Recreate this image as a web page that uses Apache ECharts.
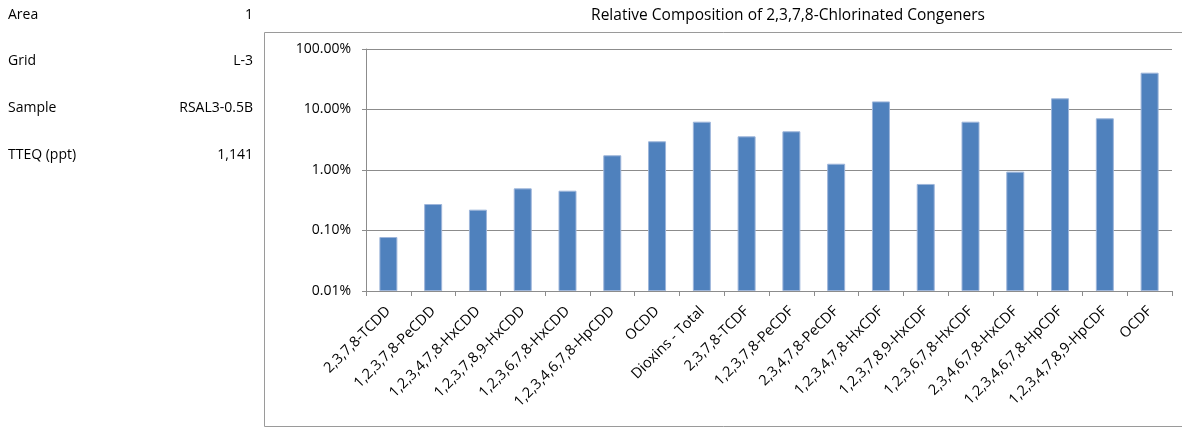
<!DOCTYPE html>
<html>
<head>
<meta charset="utf-8">
<script src="https://cdn.jsdelivr.net/npm/echarts@6/dist/echarts.min.js"></script>
<style>
  html, body { margin: 0; padding: 0; background: #fff; }
  #chart { width: 1182px; height: 429px; }
</style>
</head>
<body>
<div id="chart"></div>
<script>
// Congener names along the x axis
const categories = [
  '2,3,7,8-TCDD', '1,2,3,7,8-PeCDD', '1,2,3,4,7,8-HxCDD', '1,2,3,7,8,9-HxCDD',
  '1,2,3,6,7,8-HxCDD', '1,2,3,4,6,7,8-HpCDD', 'OCDD', 'Dioxins - Total',
  '2,3,7,8-TCDF', '1,2,3,7,8-PeCDF', '2,3,4,7,8-PeCDF', '1,2,3,4,7,8-HxCDF',
  '1,2,3,7,8,9-HxCDF', '1,2,3,6,7,8-HxCDF', '2,3,4,6,7,8-HxCDF',
  '1,2,3,4,6,7,8-HpCDF', '1,2,3,4,7,8,9-HpCDF', 'OCDF'
];

// Relative composition, in percent
const composition = [
  0.078, 0.274, 0.221, 0.497, 0.455, 1.75, 2.98, 6.29,
  3.6, 4.36, 1.27, 13.6, 0.588, 6.29, 0.94, 15.3, 7.15, 40.6
];

// Sample information block on the left
const infoLabels = ['Area', 'Grid', 'Sample', 'TTEQ (ppt)'];
const infoValues = ['1', 'L-3', 'RSAL3-0.5B', '1,141'];

// Bottom of the log axis; bars rise from here
const AXIS_MIN = 0.01;
const AXIS_MAX = 100;

const FONT = '"Open Sans", sans-serif';
const GRID_GRAY = '#8c8c8c';

const infoRowsY = [15, 61, 108, 155];
const infoGraphics = [];
infoLabels.forEach((t, i) => {
  infoGraphics.push({
    type: 'text', x: 8, y: infoRowsY[i],
    style: { text: t, font: '14px ' + FONT, fill: '#000', verticalAlign: 'middle' }
  });
});
infoValues.forEach((t, i) => {
  infoGraphics.push({
    type: 'text', x: 253, y: infoRowsY[i],
    style: { text: t, font: '14px ' + FONT, fill: '#000', align: 'right', verticalAlign: 'middle' }
  });
});

// A log axis anchors bars at 1, so an invisible base segment up to AXIS_MIN
// is stacked underneath and the visible bar carries the remainder.
const baseSeg = composition.map(() => AXIS_MIN);
const barSeg = composition.map(v => v - AXIS_MIN);

const chart = echarts.init(document.getElementById('chart'), null, { renderer: 'canvas' });
chart.setOption({
  animation: false,
  backgroundColor: '#fff',
  graphic: [
    {
      type: 'rect', x: 264.5, y: 32.5,
      shape: { width: 940, height: 394 },
      style: { fill: 'none', stroke: '#9a9a9a', lineWidth: 1 },
      z: -1
    },
    {
      type: 'text', x: 788, y: 16,
      style: {
        text: 'Relative Composition of 2,3,7,8-Chlorinated Congeners',
        font: '15.5px ' + FONT, fill: '#000', align: 'center', verticalAlign: 'middle'
      }
    },
    ...infoGraphics
  ],
  grid: { left: 366, right: 10, top: 49, bottom: 138, containLabel: false },
  xAxis: {
    type: 'category',
    data: categories,
    axisLine: { lineStyle: { color: GRID_GRAY, width: 1 } },
    axisTick: { show: true, length: 5, alignWithLabel: false, lineStyle: { color: GRID_GRAY } },
    axisLabel: {
      interval: 0, rotate: 45, margin: 18,
      fontFamily: FONT, fontSize: 14.5, color: '#000'
    },
    splitLine: { show: false }
  },
  yAxis: {
    type: 'log',
    logBase: 10,
    min: AXIS_MIN,
    max: AXIS_MAX,
    axisLine: { show: true, lineStyle: { color: GRID_GRAY, width: 1 } },
    axisTick: { show: true, length: 4, inside: false, lineStyle: { color: GRID_GRAY } },
    axisLabel: {
      margin: 15,
      fontFamily: FONT, fontSize: 14, color: '#000',
      formatter: v => Number(v).toFixed(2) + '%'
    },
    splitLine: { show: true, lineStyle: { color: GRID_GRAY, width: 1 } },
    minorTick: { show: false }
  },
  series: [
    {
      type: 'bar',
      stack: 'composition',
      data: baseSeg,
      barWidth: 18,
      silent: true,
      itemStyle: { color: 'rgba(0,0,0,0)' }
    },
    {
      type: 'bar',
      stack: 'composition',
      data: barSeg,
      barWidth: 18,
      itemStyle: { color: '#4F81BD', borderColor: '#9db5da', borderWidth: 1 }
    }
  ]
});
</script>
</body>
</html>
